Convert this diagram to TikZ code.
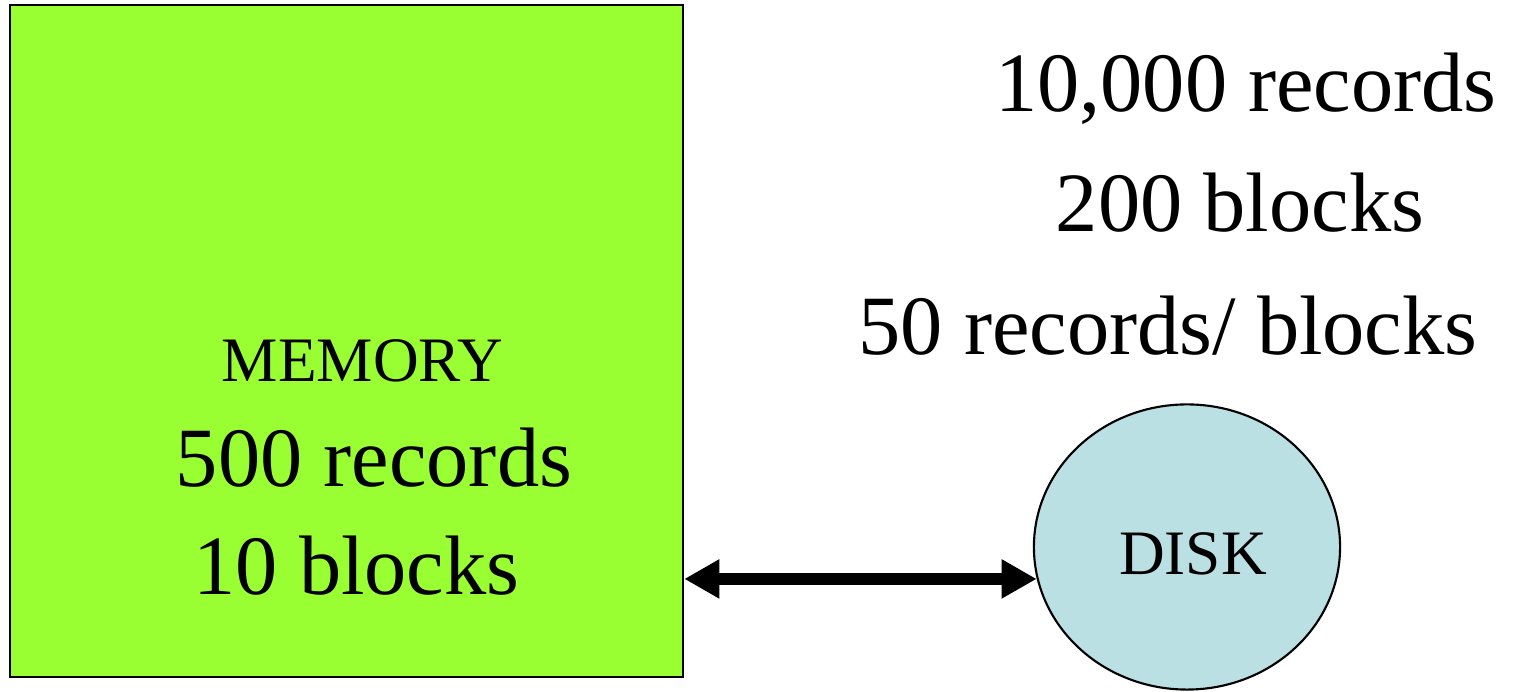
\documentclass[tikz,border=0pt]{standalone}
\usepackage{fontspec}
\setmainfont{Liberation Serif}
\usetikzlibrary{shapes.geometric,arrows.meta}
\definecolor{memgreen}{RGB}{153,255,51}
\definecolor{diskblue}{RGB}{186,224,227}
\tikzset{
  bigtxt/.style={anchor=base,inner sep=0pt,font=\fontsize{24}{28}\selectfont},
  smalltxt/.style={anchor=base,inner sep=0pt,font=\fontsize{18}{22}\selectfont},
  membox/.style={draw=black,line width=0.6pt,fill=memgreen,rectangle,inner sep=0pt,minimum width=6.73cm,minimum height=6.72cm},
  diskshape/.style={draw=black,line width=0.6pt,fill=diskblue,ellipse,inner sep=0pt,minimum width=3.06cm,minimum height=2.85cm},
  link/.style={line width=3.2pt,{Triangle[length=10pt,width=10.5pt]}-{Triangle[length=10pt,width=10.5pt]},shorten <=0pt,shorten >=0pt}
}
\begin{document}
\begin{tikzpicture}[x=0.01cm,y=-0.01cm]
\useasboundingbox (0,0) rectangle (1514,692);
\node[membox] (mem) at (346.5,341) {};
\node[smalltxt] (memlbl) at (362.5,382) {MEMORY};
\node[bigtxt] (memrec) at (374,487) {500 records};
\node[bigtxt] (memblk) at (356.5,595) {10 blocks};
\node[bigtxt] (drec) at (1246,112) {10,000 records};
\node[bigtxt] (dblk) at (1240,232) {200 blocks};
\node[bigtxt] (dper) at (1168,355) {50 records/ blocks};
\node[diskshape] (disk) at (1187,547) {};
\node[smalltxt] (disklbl) at (1193,575) {DISK};
\draw[link] (mem.east |- disk.192) -- (disk.192);
\end{tikzpicture}
\end{document}
